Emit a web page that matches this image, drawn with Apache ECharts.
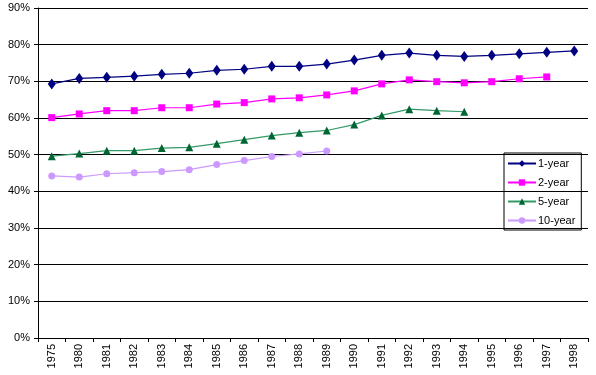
<!DOCTYPE html>
<html lang="en">
<head>
	<meta charset="UTF-8">
	<title>rates</title>
	<style>
		html, body { margin: 0; padding: 0; background: #fff; }
		#chart { width: 596px; height: 375px; }
	</style>
</head>
<body>
	<div id="chart"></div>
	<script src="https://cdn.jsdelivr.net/npm/echarts@6/dist/echarts.min.js"></script>
	<script>
		var years = ['1975', '1980', '1981', '1982', '1983', '1984', '1985', '1986', '1987', '1988',
			'1989', '1990', '1991', '1992', '1993', '1994', '1995', '1996', '1997', '1998'];

		var oneYear = [69.3, 70.8, 71.1, 71.4, 71.9, 72.2, 73.0, 73.3, 74.1, 74.1,
			74.7, 75.8, 77.1, 77.7, 77.1, 76.8, 77.1, 77.5, 77.9, 78.3];
		var twoYear = [60.1, 61.1, 62.0, 62.0, 62.8, 62.8, 63.8, 64.2, 65.2, 65.5,
			66.3, 67.4, 69.3, 70.4, 69.9, 69.6, 69.9, 70.7, 71.2];
		var fiveYear = [49.6, 50.3, 51.1, 51.1, 51.8, 52.0, 53.0, 54.1, 55.2, 56.0,
			56.6, 58.2, 60.7, 62.4, 62.0, 61.7];
		var tenYear = [44.2, 43.9, 44.8, 45.1, 45.4, 45.9, 47.3, 48.4, 49.5, 50.2,
			51.0];

		var font = 'Liberation Sans, Arial, sans-serif';
		var chart = echarts.init(document.getElementById('chart'));

		function lineSeries(name, data, color, markColor, symbol, size) {
			return {
				name: name,
				type: 'line',
				data: data,
				symbol: symbol,
				symbolSize: size,
				showAllSymbol: true,
				animation: false,
				lineStyle: { color: color, width: 1.2 },
				itemStyle: { color: markColor, borderWidth: 0 }
			};
		}

		var option = {
			backgroundColor: '#fff',
			animation: false,
			textStyle: { fontFamily: font },
			grid: { left: 38, right: 8, top: 8, bottom: 37 },
			legend: {
				orient: 'vertical',
				left: 504,
				top: 153,
				width: 75,
				borderColor: '#000',
				borderWidth: 1,
				borderRadius: 0,
				padding: [5, 6, 4, 3],
				itemWidth: 28,
				itemHeight: 8,
				itemGap: 8,
				textStyle: { fontFamily: font, fontSize: 11, color: '#000', padding: [0, 0, 0, -3] },
				data: ['1-year', '2-year', '5-year', '10-year']
			},
			xAxis: {
				type: 'category',
				data: years,
				boundaryGap: true,
				axisLine: { lineStyle: { color: '#000', width: 1 } },
				axisTick: { show: true, length: 4, lineStyle: { color: '#000' } },
				axisLabel: {
					rotate: 90,
					interval: 0,
					margin: 6,
					fontFamily: font,
					fontSize: 11,
					color: '#000'
				}
			},
			yAxis: {
				type: 'value',
				min: 0,
				max: 90,
				interval: 10,
				axisLine: { show: true, lineStyle: { color: '#000', width: 1 } },
				axisTick: { show: true, length: 4, lineStyle: { color: '#000' } },
				splitLine: { show: true, lineStyle: { color: '#000', width: 1 } },
				axisLabel: {
					margin: 8,
					fontFamily: font,
					fontSize: 11,
					color: '#000',
					formatter: '{value}%'
				}
			},
			series: [
				lineSeries('1-year', oneYear, '#000080', '#000080', 'diamond', [8, 11]),
				lineSeries('2-year', twoYear, '#ff00ff', '#ff00ff', 'rect', 7),
				lineSeries('5-year', fiveYear, '#339966', '#006633', 'triangle', 8),
				lineSeries('10-year', tenYear, '#cc99ff', '#cc99ff', 'circle', 7)
			]
		};

		chart.setOption(option);
	</script>
</body>
</html>
